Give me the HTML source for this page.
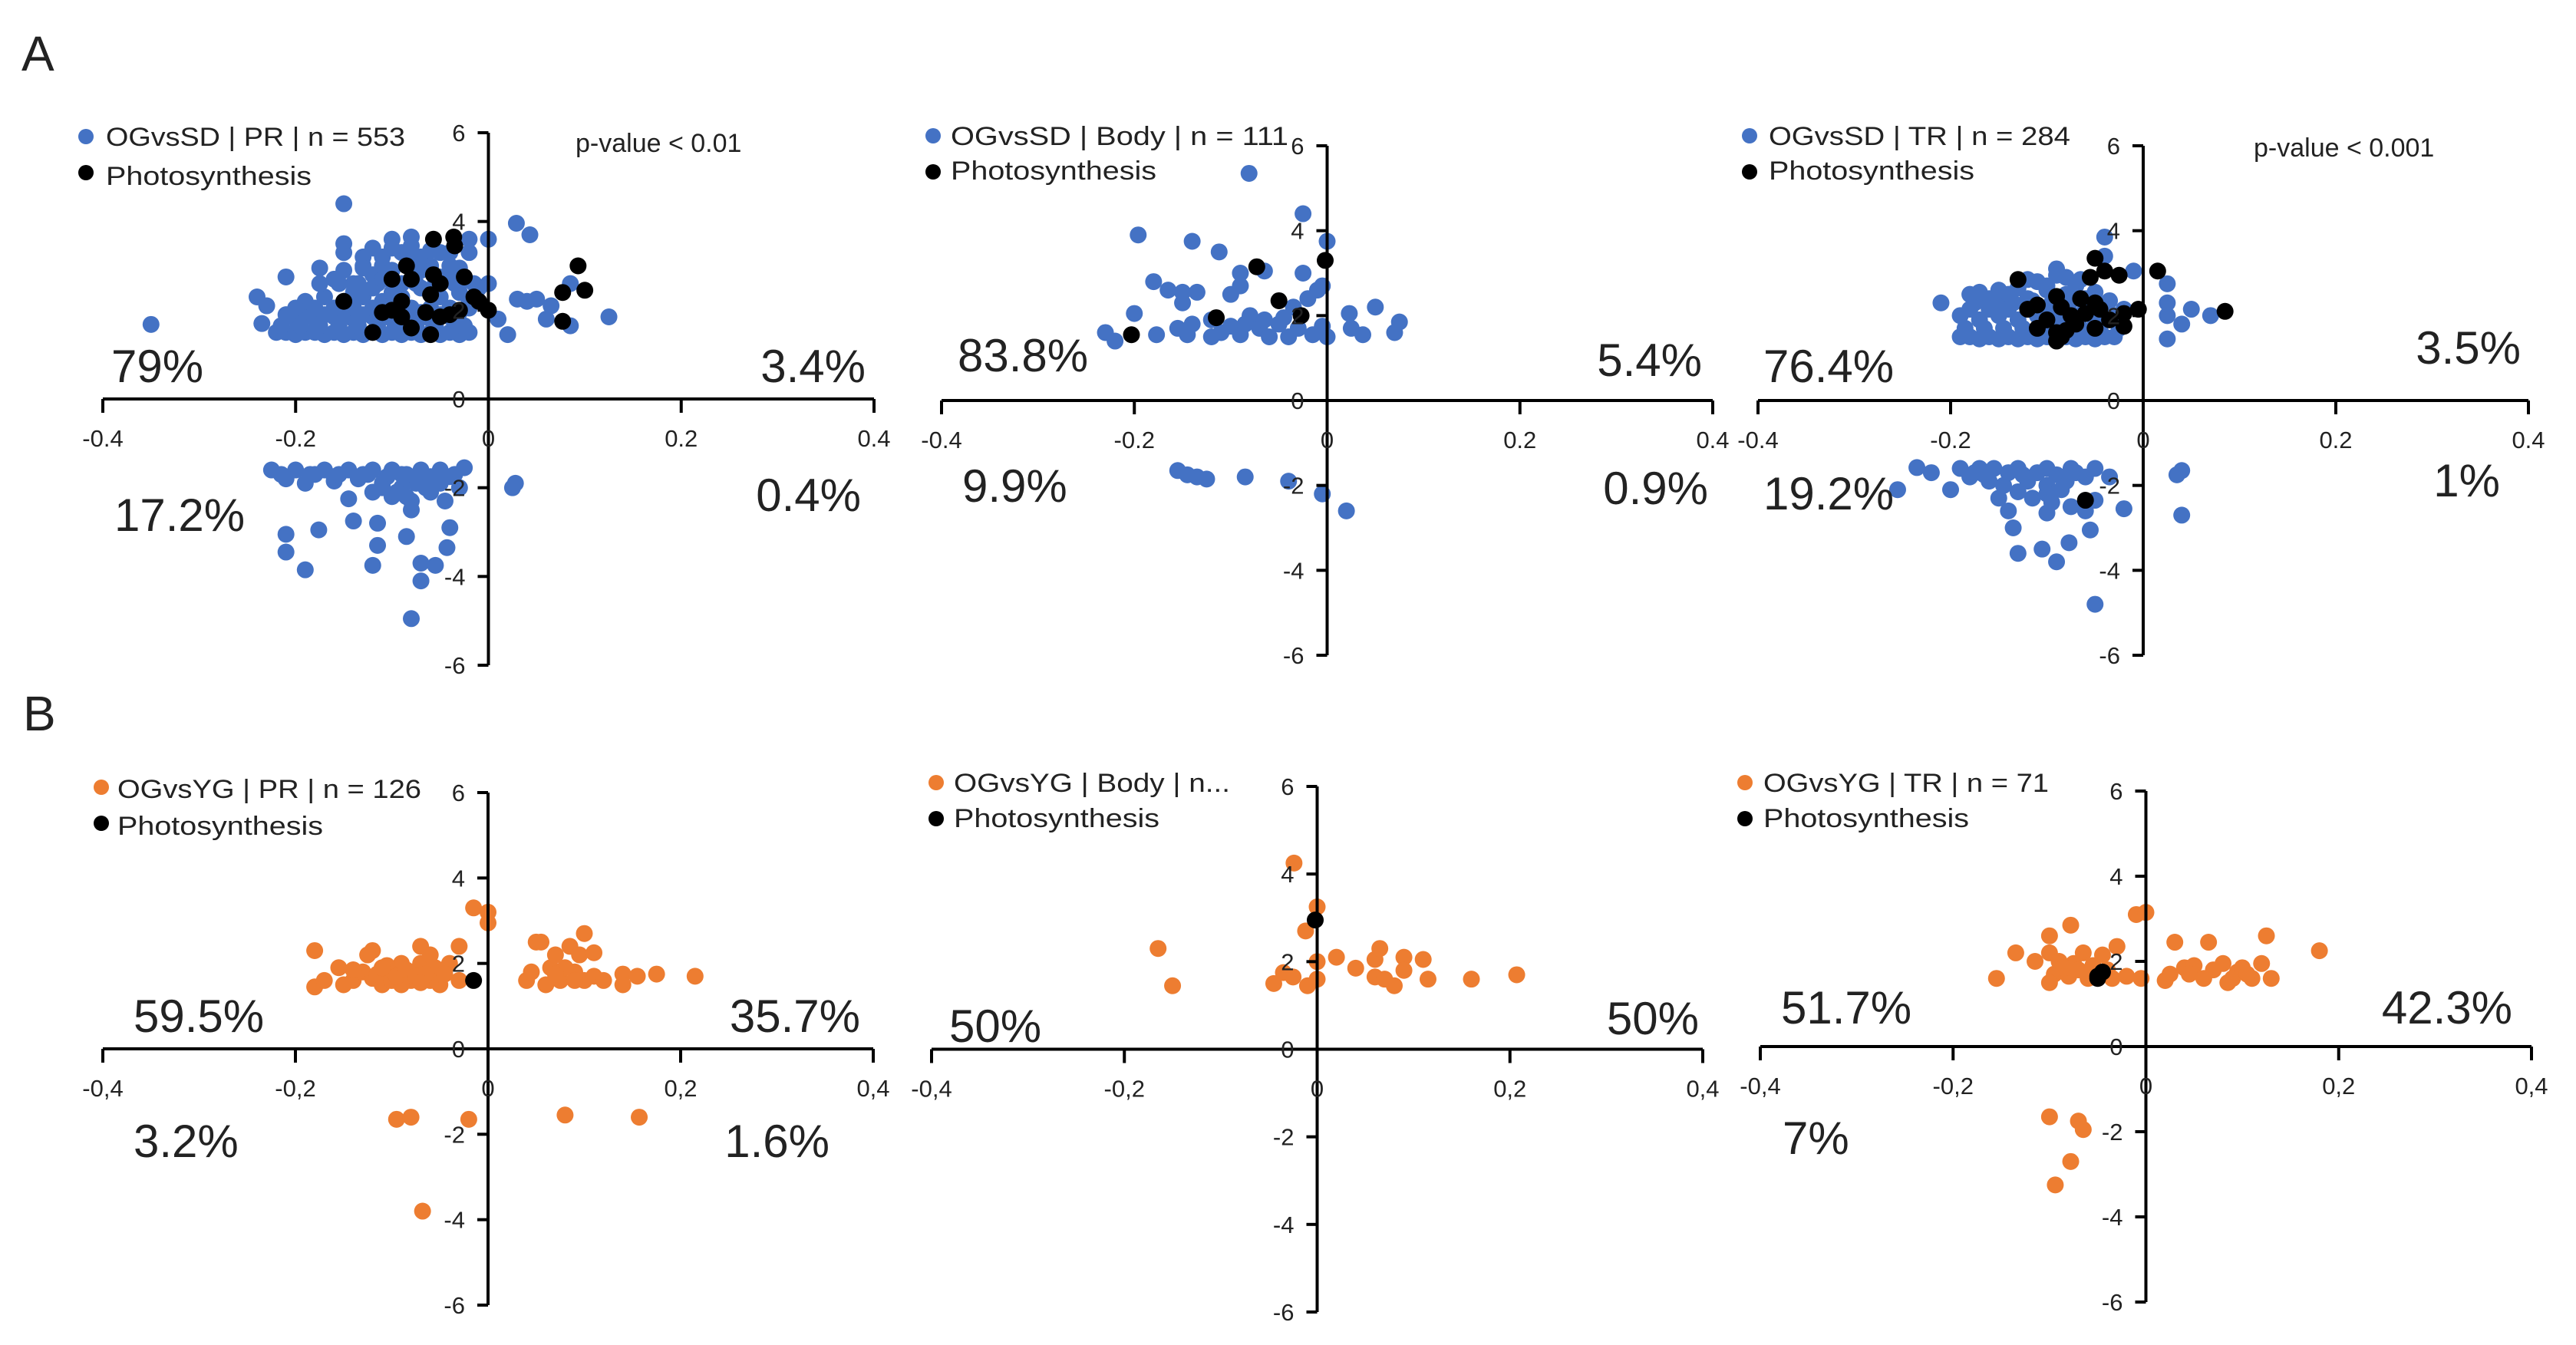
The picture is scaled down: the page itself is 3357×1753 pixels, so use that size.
<!DOCTYPE html>
<html><head><meta charset="utf-8"><style>
html,body{margin:0;padding:0;background:#fff}
svg{display:block}
text{font-family:"Liberation Sans",sans-serif;fill:#222}
</style></head><body>
<svg id="fig" width="3357" height="1753" viewBox="0 0 3357 1753" xmlns="http://www.w3.org/2000/svg">
<text x="28" y="92" font-size="64">A</text>
<text x="30" y="952" font-size="64">B</text>
</svg>
<script>
// ---- data (x = log ratio, y = fold change) ----
const xTicks = [-0.4, -0.2, 0, 0.2, 0.4];
const xTickLabelsA = ["-0.4", "-0.2", "0", "0.2", "0.4"];
const xTickLabelsB = ["-0,4", "-0,2", "0", "0,2", "0,4"];
const yTicks = [6, 4, 2, 0, -2, -4, -6];

const a1BlueX = [-0.35,-0.15,0.029,0.043,0.0,-0.02,0.125,0.02,0.085,0.085,0.05,0.03,0.065,-0.24,-0.23,-0.21,-0.175,-0.235,-0.13,-0.15,-0.15,-0.08,-0.1,
 -0.22,-0.21,-0.2,-0.19,-0.18,-0.17,-0.16,-0.15,-0.14,-0.13,-0.12,-0.11,-0.1,-0.09,-0.08,-0.07,-0.06,-0.05,-0.04,-0.03,-0.02,
 -0.21,-0.2,-0.19,-0.18,-0.17,-0.16,-0.15,-0.14,-0.13,-0.12,-0.11,-0.1,-0.09,-0.08,-0.07,-0.06,-0.05,-0.04,-0.03,
 -0.19,-0.17,-0.15,-0.14,-0.13,-0.12,-0.11,-0.1,-0.09,-0.07,-0.05,-0.03,-0.02,
 -0.16,-0.14,-0.12,-0.11,-0.1,-0.08,-0.06,-0.04,-0.03,-0.13,-0.11,-0.09,-0.07,-0.05,-0.04,-0.02,0.01,0.04,0.06,-0.01,0.0,
 -0.215,-0.195,-0.175,-0.155,-0.135,-0.115,-0.095,-0.075,-0.055,-0.035,-0.025,
 -0.2,-0.18,-0.16,-0.14,-0.12,-0.1,-0.08,-0.06,-0.04,-0.02,
 -0.175,-0.155,-0.135,-0.115,-0.095,-0.075,-0.055,-0.035,-0.015,
 -0.15,-0.13,-0.11,-0.09,-0.07,-0.05,-0.03,-0.12,-0.1,-0.08,-0.06,-0.04,
 -0.225,-0.2,-0.17,-0.145,-0.12,-0.1,-0.07,-0.05,-0.025,-0.21,-0.19,-0.16,-0.135,-0.11,-0.09,-0.075,-0.05,-0.03,-0.12,-0.1,-0.08,-0.06,-0.045,-0.145,-0.14,-0.115,-0.21,-0.176,-0.21,-0.19,-0.115,-0.085,-0.04,-0.043,-0.12,-0.07,-0.055,-0.07,-0.08,-0.08,0.025,0.028,-0.18,-0.16,-0.13,-0.09,-0.06,-0.035,
 -0.215,-0.185,-0.155,-0.125,-0.105,-0.085,-0.065,-0.04,-0.095,-0.065,-0.085,-0.11];
const a1BlueY = [1.68,4.4,3.96,3.7,3.6,3.6,1.85,1.45,1.65,2.6,2.25,2.25,2.1,2.3,2.1,2.75,2.95,1.7,3.2,3.3,3.5,3.65,3.6,
 1.5,1.5,1.45,1.5,1.5,1.45,1.5,1.45,1.5,1.45,1.5,1.45,1.5,1.45,1.5,1.45,1.5,1.45,1.5,1.45,1.5,
 1.9,1.8,1.95,1.8,1.9,1.85,1.95,1.8,1.9,1.85,1.95,1.8,1.9,1.85,1.95,1.8,1.9,1.85,1.95,
 2.2,2.3,2.2,2.4,2.3,2.5,2.2,2.4,2.3,2.5,2.3,2.4,2.2,
 2.7,2.6,2.8,3.0,2.9,3.1,3.0,2.8,2.6,3.0,3.2,3.3,3.2,3.3,3.0,3.3,1.8,2.2,1.8,2.5,2.6,
 1.65,1.65,1.65,1.65,1.65,1.65,1.65,1.65,1.65,1.65,1.65,
 2.05,2.05,2.05,2.05,2.05,2.05,2.05,2.05,2.05,2.05,
 2.6,2.6,2.6,2.6,2.6,2.6,2.6,2.6,2.6,
 2.9,2.95,2.7,2.6,2.9,2.75,2.95,3.4,3.4,3.45,3.35,3.3,
 -1.6,-1.6,-1.6,-1.6,-1.6,-1.6,-1.6,-1.6,-1.55,-1.8,-1.9,-1.85,-1.8,-1.9,-2.0,-1.9,-1.9,-2.0,-2.1,-2.2,-2.3,-2.1,-2.3,-2.25,-2.75,-2.8,-3.05,-2.95,-3.45,-3.85,-3.3,-3.1,-2.9,-3.35,-3.75,-3.7,-3.75,-4.1,-4.95,-2.5,-2.0,-1.9,-1.7,-1.75,-1.7,-1.7,-1.75,-1.7,
 -1.7,-1.7,-1.7,-1.7,-1.75,-1.7,-1.75,-1.75,-2.1,-2.0,-2.2,-2.0];
const a1BlackX = [-0.057,-0.036,-0.035,0.093,0.1,0.077,0.077,-0.15,-0.12,-0.085,-0.1,-0.08,-0.057,-0.05,-0.025,-0.015,0.0,-0.01,-0.09,-0.11,-0.09,-0.08,-0.06,-0.065,-0.04,-0.03,-0.06,-0.05,-0.1];
const a1BlackY = [3.6,3.65,3.45,3.0,2.45,2.4,1.75,2.2,1.5,3.0,2.7,2.7,2.8,2.6,2.75,2.3,2.0,2.2,2.2,1.95,1.85,1.6,2.35,1.95,1.9,2.0,1.45,1.85,2.0];

const a2BlueX = [-0.081,-0.025,-0.196,-0.14,-0.112,0,-0.09,-0.065,-0.025,-0.18,-0.165,-0.15,-0.135,-0.15,-0.1,-0.09,-0.02,-0.01,-0.005,-0.035,-0.2,-0.23,-0.22,-0.177,-0.155,-0.145,-0.12,-0.12,-0.1,-0.09,-0.08,-0.07,-0.06,-0.05,-0.04,-0.03,-0.015,-0.005,0,0.023,0.025,0.037,0.05,0.07,0.075,-0.14,-0.11,-0.085,-0.065,-0.045,
 -0.155,-0.145,-0.135,-0.125,-0.085,-0.04,-0.005,0.02];
const a2BlueY = [5.35,4.4,3.9,3.75,3.5,3.75,3.0,3.05,3.0,2.8,2.6,2.55,2.55,2.3,2.5,2.7,2.4,2.6,2.7,2.2,2.05,1.6,1.4,1.55,1.7,1.55,1.5,1.9,1.75,1.55,2.0,1.7,1.5,1.8,1.5,1.7,1.55,1.75,1.5,2.05,1.7,1.55,2.2,1.6,1.85,1.8,1.6,1.8,1.9,1.95,
 -1.65,-1.75,-1.8,-1.85,-1.8,-1.9,-2.2,-2.6];
const a2BlackX = [-0.073,-0.002,-0.05,-0.115,-0.027,-0.203];
const a2BlackY = [3.15,3.3,2.35,1.95,2.0,1.55];

const a3BlueX = [-0.21,-0.04,-0.04,-0.01,0.025,0.025,0.05,0.07,0.04,0.025,0.025,-0.09,-0.18,-0.19,-0.19,
 -0.18,-0.17,-0.16,-0.15,-0.14,-0.13,-0.12,-0.11,-0.1,-0.09,-0.08,-0.07,-0.06,-0.05,-0.04,-0.03,
 -0.17,-0.15,-0.13,-0.11,-0.09,-0.07,-0.05,-0.03,-0.16,-0.14,-0.12,-0.1,-0.08,-0.06,-0.15,-0.11,-0.08,
 -0.185,-0.165,-0.145,-0.125,-0.105,-0.085,-0.065,-0.045,-0.025,
 -0.18,-0.16,-0.14,-0.12,-0.1,-0.08,-0.06,-0.04,-0.02,
 -0.175,-0.155,-0.135,-0.115,-0.095,-0.075,-0.055,-0.035,
 -0.17,-0.15,-0.13,-0.1,-0.07,-0.05,-0.12,-0.09,-0.065,
 -0.235,-0.22,-0.2,-0.255,-0.19,-0.17,-0.155,-0.13,-0.1,-0.075,-0.05,-0.18,-0.16,-0.145,-0.12,-0.1,-0.08,-0.06,-0.035,-0.15,-0.14,-0.1,-0.095,-0.1,-0.075,-0.06,-0.05,-0.02,-0.135,-0.055,-0.077,-0.13,-0.105,-0.09,-0.05,0.04,0.04,0.035,
 -0.175,-0.165,-0.14,-0.125,-0.11,-0.09,-0.07,-0.085,-0.13,-0.115];
const a3BlueY = [2.3,3.85,3.4,3.05,2.75,2.3,2.15,2.0,1.8,2.0,1.45,3.1,2.5,2.0,1.5,
 1.5,1.45,1.5,1.45,1.5,1.45,1.5,1.45,1.5,1.45,1.5,1.45,1.5,1.45,1.5,1.5,
 1.9,2.0,1.9,2.0,1.9,2.0,1.9,2.0,2.4,2.5,2.4,2.6,2.5,2.4,2.2,2.8,2.9,
 1.7,1.7,1.7,1.7,1.7,1.7,1.7,1.7,1.7,
 2.15,2.15,2.15,2.15,2.15,2.15,2.15,2.15,2.15,
 2.3,2.35,2.3,2.35,2.3,2.35,2.3,2.35,
 2.55,2.6,2.65,2.7,2.7,2.55,2.85,2.95,2.85,
 -1.58,-1.7,-2.1,-2.1,-1.6,-1.6,-1.6,-1.6,-1.6,-1.6,-1.6,-1.8,-1.9,-2.0,-1.9,-2.0,-1.9,-1.8,-1.8,-2.3,-2.6,-2.2,-2.4,-2.65,-2.5,-2.6,-2.35,-2.55,-3.0,-3.05,-3.35,-3.6,-3.5,-3.8,-4.8,-2.7,-1.65,-1.75,
 -1.7,-1.75,-1.7,-1.75,-1.7,-1.75,-1.7,-2.1,-2.15,-2.3];
const a3BlackX = [-0.13,-0.05,-0.04,-0.055,-0.025,0.015,-0.11,-0.09,-0.12,-0.1,-0.11,-0.09,-0.09,-0.085,-0.085,-0.075,-0.065,-0.06,-0.05,-0.045,-0.035,-0.02,-0.02,-0.005,-0.05,0.085,-0.07,-0.08,-0.06];
const a3BlackY = [2.85,3.35,3.05,2.9,2.95,3.05,2.25,2.45,2.15,1.9,1.7,1.6,1.4,1.5,2.2,2.0,2.4,2.05,2.3,2.15,1.9,1.75,2.05,2.15,1.7,2.1,1.8,1.65,-2.35];

const b1OrangeX = [-0.015,0,0,-0.18,-0.18,-0.17,-0.155,-0.14,-0.13,-0.12,-0.125,-0.11,-0.1,-0.09,-0.08,-0.07,-0.07,-0.06,-0.055,-0.05,-0.04,-0.03,-0.03,-0.1,-0.09,-0.06,-0.12,-0.15,-0.14,-0.08,
 -0.115,-0.105,-0.095,-0.085,-0.075,-0.065,-0.045,-0.11,-0.07,
 0.04,0.05,0.055,0.065,0.07,0.075,0.085,0.1,0.095,0.09,0.1,0.11,0.11,0.14,0.14,0.155,0.175,0.215,0.06,0.08,0.045,0.12,0.07,0.09,
 -0.095,-0.08,-0.02,0.08,0.157,-0.068];
const b1OrangeY = [3.3,3.2,2.95,2.3,1.45,1.6,1.9,1.6,1.8,2.3,2.2,1.5,1.8,2.0,1.6,2.0,2.4,2.2,1.9,1.5,2.0,2.4,1.6,1.6,1.5,1.6,1.65,1.5,1.85,1.8,
 1.75,1.95,1.7,1.85,1.7,1.75,1.75,1.9,1.55,
 1.6,2.5,2.5,1.9,2.2,1.6,2.4,2.7,2.2,1.8,1.6,2.25,1.7,1.75,1.5,1.7,1.75,1.7,1.5,1.9,1.8,1.6,1.75,1.6,
 -1.65,-1.6,-1.65,-1.55,-1.6,-3.8];
const b1BlackX = [-0.015];
const b1BlackY = [1.6];

const b2OrangeX = [-0.024,0,-0.012,-0.165,-0.15,-0.045,-0.035,-0.025,-0.01,0,0,0.02,0.04,0.06,0.065,0.06,0.07,0.08,0.09,0.09,0.11,0.115,0.16,0.207];
const b2OrangeY = [4.25,3.25,2.7,2.3,1.45,1.5,1.75,1.65,1.45,1.6,2.0,2.1,1.85,2.05,2.3,1.65,1.6,1.45,2.1,1.8,2.05,1.6,1.6,1.7];
const b2BlackX = [-0.002];
const b2BlackY = [2.95];

const b3OrangeX = [-0.01,0,-0.078,-0.1,-0.135,-0.155,-0.115,-0.1,-0.095,-0.09,-0.08,-0.075,-0.065,-0.06,-0.045,-0.03,-0.04,-0.035,-0.02,-0.005,0.02,0.025,0.03,0.04,0.05,0.06,0.065,0.07,0.08,0.09,0.095,0.1,0.11,0.12,0.125,0.13,0.18,-0.1,
 -0.085,-0.07,-0.055,0.085,0.105,0.045,
 -0.1,-0.07,-0.065,-0.078,-0.094];
const b3OrangeY = [3.1,3.15,2.85,2.6,2.2,1.6,2.0,2.2,1.7,2.0,1.65,1.95,2.2,1.6,2.15,2.35,1.8,1.6,1.65,1.6,1.55,1.7,2.45,1.85,1.9,1.6,2.45,1.8,1.95,1.6,1.75,1.85,1.6,1.95,2.6,1.6,2.25,1.5,
 1.85,1.8,1.9,1.5,1.7,1.7,
 -1.65,-1.75,-1.95,-2.7,-3.25];
const b3BlackX = [-0.05,-0.045,-0.05];
const b3BlackY = [1.65,1.75,1.6];

// ---- rendering ----
const NS = "http://www.w3.org/2000/svg";
const svg = document.getElementById("fig");
function mk(tag, attrs, parent, txt) {
  const e = document.createElementNS(NS, tag);
  for (const k in attrs) e.setAttribute(k, attrs[k]);
  if (txt !== undefined) e.textContent = txt;
  (parent || svg).appendChild(e);
  return e;
}
const BLUE = "#4472C4", ORANGE = "#ED7D31";
const R = 11;

const panels = [
 {id:"a1", x0:134, x1:1139, yT:173, yB:867, col:BLUE, sx:a1BlueX, sy:a1BlueY, bx:a1BlackX, by:a1BlackY, lab:xTickLabelsA,
  leg:{dx:112, dy:178, tx:138, tb:190, tw:390, pb:241, pw:268, text:"OGvsSD | PR | n = 553"},
  pv:{x:750, y:198, t:"p-value < 0.01"},
  pct:[["79%",145,498,"start"],["3.4%",1128,498,"end"],["17.2%",149,692,"start"],["0.4%",1122,666,"end"]]},
 {id:"a2", x0:1227, x1:2232, yT:190, yB:854, col:BLUE, sx:a2BlueX, sy:a2BlueY, bx:a2BlackX, by:a2BlackY, lab:xTickLabelsA,
  leg:{dx:1216, dy:177, tx:1239, tb:189, tw:440, pb:234, pw:268, text:"OGvsSD | Body | n = 111"},
  pct:[["83.8%",1248,484,"start"],["5.4%",2218,490,"end"],["9.9%",1254,654,"start"],["0.9%",2226,657,"end"]]},
 {id:"a3", x0:2291, x1:3295, yT:190, yB:854, col:BLUE, sx:a3BlueX, sy:a3BlueY, bx:a3BlackX, by:a3BlackY, lab:xTickLabelsA,
  leg:{dx:2280, dy:177, tx:2305, tb:189, tw:393, pb:234, pw:268, text:"OGvsSD | TR | n = 284"},
  pv:{x:2937, y:204, t:"p-value < 0.001"},
  pct:[["76.4%",2298,498,"start"],["3.5%",3285,474,"end"],["19.2%",2298,664,"start"],["1%",3258,647,"end"]]},
 {id:"b1", x0:134, x1:1138, yT:1033, yB:1701, col:ORANGE, sx:b1OrangeX, sy:b1OrangeY, bx:b1BlackX, by:b1BlackY, lab:xTickLabelsB,
  leg:{dx:132, dy:1026, tx:153, tb:1040, tw:396, pb:1088, pw:268, text:"OGvsYG | PR | n = 126"},
  pct:[["59.5%",174,1345,"start"],["35.7%",1121,1345,"end"],["3.2%",174,1508,"start"],["1.6%",1081,1508,"end"]]},
 {id:"b2", x0:1214, x1:2219, yT:1025, yB:1710, col:ORANGE, sx:b2OrangeX, sy:b2OrangeY, bx:b2BlackX, by:b2BlackY, lab:xTickLabelsB,
  leg:{dx:1220, dy:1020, tx:1243, tb:1032, tw:360, pb:1078, pw:268, text:"OGvsYG | Body | n..."},
  pct:[["50%",1237,1358,"start"],["50%",2214,1348,"end"]]},
 {id:"b3", x0:2294, x1:3299, yT:1031, yB:1697, col:ORANGE, sx:b3OrangeX, sy:b3OrangeY, bx:b3BlackX, by:b3BlackY, lab:xTickLabelsB,
  leg:{dx:2274, dy:1020, tx:2298, tb:1032, tw:372, pb:1078, pw:268, text:"OGvsYG | TR | n = 71"},
  pct:[["51.7%",2321,1334,"start"],["42.3%",3274,1334,"end"],["7%",2323,1504,"start"]]}
];

panels.forEach(p => {
  const g = mk("g", {});
  
  
  const X = v => p.x0 + (v + 0.4) / 0.8 * (p.x1 - p.x0);
  const Y = v => p.yT + (6 - v) / 12 * (p.yB - p.yT);
  const ax = X(0), ay = Y(0);
  for (let i = 0; i < p.sx.length; i++) {
    const c = mk("circle", {cx:X(p.sx[i]), cy:Y(p.sy[i]), r:R, fill:p.col}, g);
    
    
  }
  for (let i = 0; i < p.bx.length; i++) {
    const c = mk("circle", {cx:X(p.bx[i]), cy:Y(p.by[i]), r:R, fill:"#000"}, g);
    
    
  }
  const xa = mk("line", {x1:X(-0.4), x2:X(0.4), y1:ay, y2:ay, stroke:"#000", "stroke-width":4}, g);
  
  
  const ya = mk("line", {x1:ax, x2:ax, y1:Y(6), y2:Y(-6), stroke:"#000", "stroke-width":4}, g);
  
  
  xTicks.forEach((t, i) => {
    mk("line", {x1:X(t), x2:X(t), y1:ay, y2:ay + 18, stroke:"#000", "stroke-width":4}, g);
    const tl = mk("text", {x:X(t), y:ay + 62, "font-size":31, "text-anchor":"middle", fill:"#333"}, g, p.lab[i]);
    
    
  });
  yTicks.forEach(t => {
    mk("line", {x1:ax - 14, x2:ax, y1:Y(t), y2:Y(t), stroke:"#000", "stroke-width":4}, g);
    const tl = mk("text", {x:ax - 30, y:Y(t) + 11, "font-size":31, "text-anchor":"end", fill:"#333"}, g, String(t));
    
    
  });
  const L = p.leg;
  const ld = mk("circle", {cx:L.dx, cy:L.dy, r:10, fill:p.col}, g);
  
  
  const lt = mk("text", {x:L.tx, y:L.tb, "font-size":34, textLength:L.tw, lengthAdjust:"spacingAndGlyphs"}, g, L.text);
  
  
  const pd = mk("circle", {cx:L.dx, cy:L.dy + 47, r:10, fill:"#000"}, g);
  
  
  const pt = mk("text", {x:L.tx, y:L.pb, "font-size":34, textLength:L.pw, lengthAdjust:"spacingAndGlyphs"}, g, "Photosynthesis");
  
  
  if (p.pv) {
    const pv = mk("text", {x:p.pv.x, y:p.pv.y, "font-size":34}, g, p.pv.t);
    
    
  }
  p.pct.forEach(q => {
    const t = mk("text", {x:q[1], y:q[2], "font-size":60, "text-anchor":q[3], fill:"#111"}, g, q[0]);
    
    
  });
});
</script>
</body></html>
